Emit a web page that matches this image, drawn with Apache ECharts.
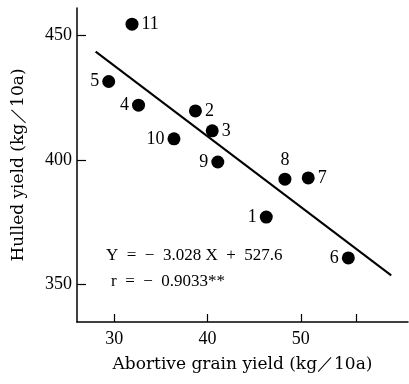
<!DOCTYPE html>
<html lang="en">
  <head>
    <meta charset="utf-8">
    <title>Hulled yield vs abortive grain yield</title>
    <script src="https://cdn.jsdelivr.net/npm/echarts@6/dist/echarts.min.js"></script>
    <style>
      html, body { margin:0; padding:0; background:#fff; }
      #chart { width:409px; height:384px; }
    </style>
  </head>
  <body>
    <div id="chart"></div>
    <script type="text/javascript">
      // plot numbers and their values
      var pointIds = ['1', '2', '3', '4', '5', '6', '7', '8', '9', '10', '11'];
      var abortiveYield = [46.3, 38.7, 40.5, 32.6, 29.4, 55.1, 50.8, 48.3, 41.1, 36.4, 31.9];
      var hulledYield = [377.1, 419.7, 411.7, 422.0, 431.5, 360.7, 392.8, 392.3, 399.2, 408.5, 454.5];

      // regression line ends, as drawn
      var fitX = [28.0, 59.7];
      var fitY = [443.5, 353.7];

      var xTickLabels = [30, 40, 50];
      var yTickLabels = [350, 400, 450];

      var equationText = 'Y  =  −  3.028 X  +  527.6';
      var corrText = 'r  =  −  0.9033**';

      var SERIF = '"Liberation Serif", "DejaVu Serif", serif';
      var WIDE_SERIF = '"DejaVu Serif", "Liberation Serif", serif';

      //which side the plot number sits on
      var labelSide = {'2':'right', '3':'right', '7':'right', '11':'right', '8':'top'};

      var points = [];
      for(var i = 0; i < pointIds.length; i++){
        var id = pointIds[i];
        points.push({
          value: [abortiveYield[i], hulledYield[i], id],
          label: { position: labelSide[id] || 'left' }
        });
      }
      var fitLine = [];
      for(var j = 0; j < fitX.length; j++){
        fitLine.push([fitX[j], fitY[j]]);
      }

      var chart = echarts.init(document.getElementById('chart'));
      var option = {
        animation: false,
        backgroundColor: '#fff',
        grid: { left: 77, right: 1, top: 8, bottom: 62 },
        xAxis: {
          type: 'value',
          min: 26,
          max: 61.5,
          name: 'Abortive grain yield (kg／10a)',
          nameLocation: 'middle',
          nameGap: 34,
          nameTextStyle: { fontFamily: WIDE_SERIF, fontSize: 17, color: '#000' },
          axisLine: { lineStyle: { color: '#000', width: 1.5 } },
          axisTick: { inside: true, length: 8, customValues: xTickLabels.concat([56]), lineStyle: { color: '#000', width: 1.2 } },
          axisLabel: { customValues: xTickLabels, fontFamily: SERIF, fontSize: 18, color: '#000', margin: 8 },
          splitLine: { show: false }
        },
        yAxis: {
          type: 'value',
          min: 335,
          max: 461,
          name: 'Hulled yield (kg／10a)',
          nameLocation: 'middle',
          nameGap: 50,
          nameTextStyle: { fontFamily: WIDE_SERIF, fontSize: 17, color: '#000' },
          axisLine: { lineStyle: { color: '#000', width: 1.5 } },
          axisTick: { inside: true, length: 9, customValues: yTickLabels, lineStyle: { color: '#000', width: 1.2 } },
          axisLabel: { customValues: yTickLabels, fontFamily: SERIF, fontSize: 18, color: '#000', margin: 5 },
          splitLine: { show: false }
        },
        series: [
          {
            type: 'line',
            data: fitLine,
            symbol: 'none',
            lineStyle: { color: '#000', width: 2 },
            silent: true
          },
          {
            type: 'scatter',
            data: points,
            symbolSize: 13,
            itemStyle: { color: '#000', opacity: 1 },
            label: {
              show: true,
              distance: 3,
              fontFamily: SERIF,
              fontSize: 18,
              color: '#000',
              formatter: function(p){ return p.value[2]; }
            }
          }
        ],
        graphic: [
          { type: 'text', left: 106, top: 247, style: { text: equationText, font: '17px ' + SERIF, fill: '#000' } },
          { type: 'text', left: 111, top: 273, style: { text: corrText, font: '17px ' + SERIF, fill: '#000' } }
        ]
      };
      chart.setOption(option);
    </script>
  </body>
</html>
